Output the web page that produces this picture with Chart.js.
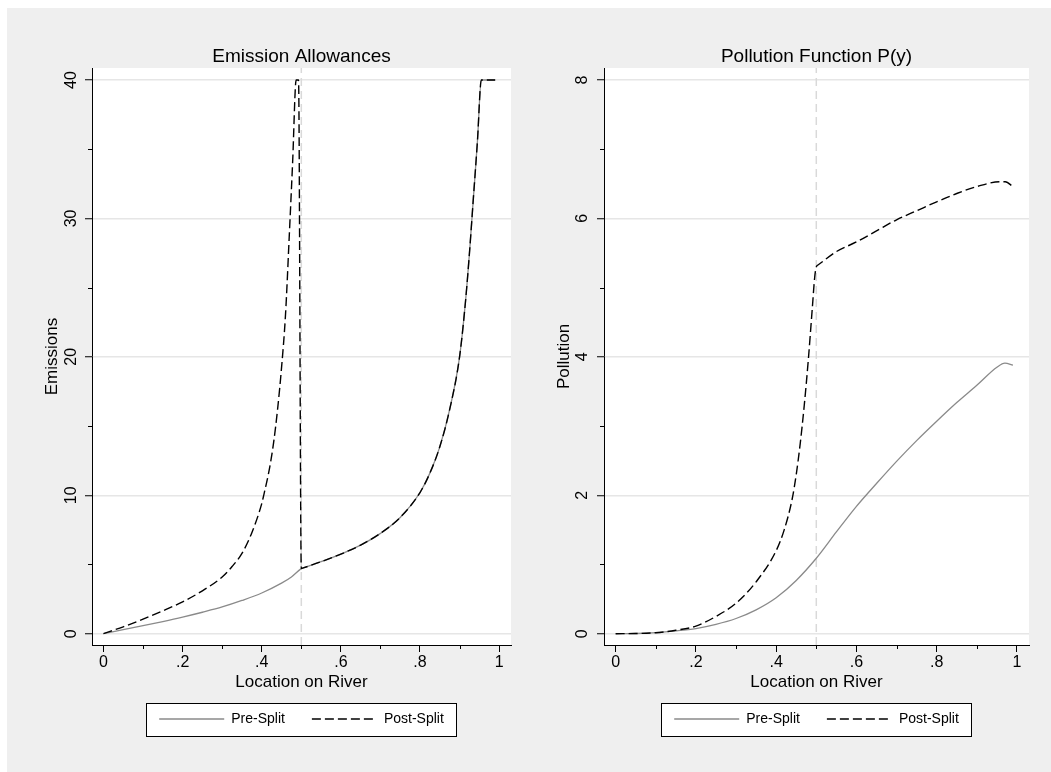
<!DOCTYPE html>
<html>
<head>
<meta charset="utf-8">
<script src="https://cdn.jsdelivr.net/npm/chart.js@4/dist/chart.umd.min.js"></script>
<style>
  html, body { margin: 0; padding: 0; background: #ffffff; }
  #frame { position: absolute; left: 7px; top: 8px; width: 1044px; height: 764px; background: #efefef; }
  canvas { position: absolute; top: 0; }
  #emisChart { left: 0; }
  #pollChart { left: 512px; }
</style>
</head>
<body>
<div id="frame">
  <canvas id="emisChart" width="512" height="764"></canvas>
  <canvas id="pollChart" width="532" height="764"></canvas>
</div>
<script>
// ---- Emission allowances by location on the river ----
const emisPreX  = [0, 0.05, 0.1, 0.15, 0.2, 0.25, 0.3, 0.35, 0.4, 0.45, 0.475, 0.5, 0.505,
                   0.55, 0.6, 0.65, 0.7, 0.75, 0.8, 0.825, 0.85, 0.875, 0.9,
                   0.915, 0.925, 0.935, 0.945, 0.955, 0.99];
const emisPreY  = [0, 0.3, 0.58, 0.88, 1.2, 1.55, 1.93, 2.4, 2.94, 3.65, 4.1, 4.7, 4.75,
                   5.2, 5.75, 6.4, 7.25, 8.4, 10.2, 11.6, 13.5, 16.2, 20.0,
                   24.0, 27.5, 31.5, 35.5, 40, 40];
const emisPostX = [0, 0.05, 0.1, 0.15, 0.2, 0.25, 0.3, 0.325, 0.35, 0.375, 0.4, 0.405,
                   0.42, 0.43, 0.44, 0.45, 0.46, 0.47, 0.478, 0.487, 0.493, 0.5, 0.505,
                   0.55, 0.6, 0.65, 0.7, 0.75, 0.8, 0.825, 0.85, 0.875, 0.9,
                   0.915, 0.925, 0.935, 0.945, 0.955, 0.99];
const emisPostY = [0, 0.5, 1.05, 1.65, 2.3, 3.1, 4.1, 4.85, 5.8, 7.3, 9.4, 10.0,
                   12.0, 13.8, 16.2, 19.2, 23.0, 29.0, 34.0, 40, 40, 4.7, 4.75,
                   5.2, 5.75, 6.4, 7.25, 8.4, 10.2, 11.6, 13.5, 16.2, 20.0,
                   24.0, 27.5, 31.5, 35.5, 40, 40];

// ---- Pollution function P(y) ----
const pollPreX  = [0, 0.05, 0.1, 0.15, 0.2, 0.25, 0.3, 0.35, 0.4, 0.45, 0.5,
                   0.55, 0.6, 0.65, 0.7, 0.75, 0.8, 0.85, 0.9, 0.95, 0.97, 0.99];
const pollPreY  = [0, 0.003, 0.015, 0.04, 0.075, 0.135, 0.22, 0.345, 0.52, 0.77, 1.09,
                   1.47, 1.84, 2.17, 2.49, 2.79, 3.07, 3.34, 3.59, 3.85, 3.91, 3.88];
const pollPostX = [0, 0.05, 0.1, 0.15, 0.2, 0.25, 0.3, 0.35, 0.4, 0.42, 0.44,
                   0.45, 0.46, 0.47, 0.48, 0.49, 0.496, 0.5, 0.505, 0.55, 0.6, 0.65,
                   0.7, 0.75, 0.8, 0.85, 0.9, 0.958, 0.971, 0.99];
const pollPostY = [0, 0.003, 0.015, 0.05, 0.11, 0.25, 0.44, 0.75, 1.2, 1.5, 1.95,
                   2.3, 2.75, 3.3, 3.95, 4.7, 5.15, 5.3, 5.33, 5.52, 5.66, 5.82,
                   5.98, 6.11, 6.24, 6.36, 6.46, 6.53, 6.53, 6.46];

// ---- Axis ticks ----
const xTickValues  = [0, 0.2, 0.4, 0.6, 0.8, 1];
const xTickLabels  = ['0', '.2', '.4', '.6', '.8', '1'];
const xMinorTicks  = [0.1, 0.3, 0.5, 0.7, 0.9];
const emisTickValues = [0, 10, 20, 30, 40];
const emisTickLabels = ['0', '10', '20', '30', '40'];
const emisMinorTicks = [5, 15, 25, 35];
const pollTickValues = [0, 2, 4, 6, 8];
const pollTickLabels = ['0', '2', '4', '6', '8'];
const pollMinorTicks = [1, 3, 5, 7];

const splitLocation = 0.5;
const seriesNames = ['Pre-Split', 'Post-Split'];

const FONT = "'Liberation Sans', Arial, Helvetica, sans-serif";
Chart.defaults.font.family = FONT;
Chart.defaults.color = '#000';

const toPoints = (xs, ys) => xs.map((x, i) => ({ x: x, y: ys[i] }));

// Legend samples take their stroke and dash pattern from the dataset line
const lineLegendLabels = chart =>
  Chart.defaults.plugins.legend.labels.generateLabels(chart).map(item => {
    const ds = chart.data.datasets[item.datasetIndex];
    item.strokeStyle = ds.borderColor;
    item.lineWidth = ds.borderWidth;
    item.lineDash = ds.borderDash || [];
    return item;
  });

// White plot region, framed legend and short minor ticks
const panelDecor = {
  id: 'panelDecor',
  beforeDraw(chart) {
    const { ctx, chartArea: a } = chart;
    ctx.save();
    ctx.fillStyle = '#ffffff';
    ctx.fillRect(a.left, a.top, a.right - a.left, a.bottom - a.top);
    const lg = chart.legend;
    if (lg && lg.legendHitBoxes && lg.legendHitBoxes.length) {
      const hb = lg.legendHitBoxes;
      const last = hb[hb.length - 1];
      const x0 = Math.round(hb[0].left - 13);
      const x1 = Math.round(last.left + last.width + 12);
      const cy = hb[0].top + hb[0].height / 2;
      const y0 = Math.round(cy - 16.5);
      ctx.fillStyle = '#ffffff';
      ctx.fillRect(x0, y0, x1 - x0, 33);
      ctx.strokeStyle = '#000';
      ctx.lineWidth = 1;
      ctx.strokeRect(x0 + 0.5, y0 + 0.5, x1 - x0, 33);
    }
    ctx.restore();
  },
  afterDraw(chart, args, opts) {
    const { ctx, chartArea: a } = chart;
    const xs = chart.scales.x, ys = chart.scales.y;
    ctx.save();
    ctx.strokeStyle = '#000';
    ctx.lineWidth = 1;
    ctx.beginPath();
    (opts.xMinor || []).forEach(v => {
      const px = Math.round(xs.getPixelForValue(v)) + 0.5;
      ctx.moveTo(px, a.bottom);
      ctx.lineTo(px, a.bottom + 4);
    });
    (opts.yMinor || []).forEach(v => {
      const py = Math.round(ys.getPixelForValue(v)) + 0.5;
      ctx.moveTo(a.left, py);
      ctx.lineTo(a.left - 4, py);
    });
    ctx.stroke();
    ctx.restore();
  }
};

function buildPanel(canvasId, p) {
  return new Chart(document.getElementById(canvasId), {
    type: 'line',
    data: {
      datasets: [
        { label: seriesNames[0], data: toPoints(p.preX, p.preY),
          borderColor: '#8a8a8a', backgroundColor: '#8a8a8a', borderWidth: 1.3,
          cubicInterpolationMode: 'monotone', order: 2 },
        { label: seriesNames[1], data: toPoints(p.postX, p.postY),
          borderColor: '#000000', backgroundColor: '#000000', borderWidth: 1.4,
          borderDash: [9, 4], cubicInterpolationMode: 'monotone', order: 1 },
        { label: 'split', data: [{ x: splitLocation, y: p.yMin }, { x: splitLocation, y: p.yMax }],
          borderColor: '#d9d9d9', borderWidth: 1.5, borderDash: [8, 5], order: 3 }
      ]
    },
    options: {
      responsive: false,
      animation: false,
      devicePixelRatio: 1,
      elements: { point: { radius: 0 }, line: { fill: false } },
      layout: { padding: { left: 30, right: p.padRight, top: 0, bottom: 36 } },
      scales: {
        x: {
          type: 'linear', min: -0.029, max: 1.03,
          afterBuildTicks: s => { s.ticks = xTickValues.map(v => ({ value: v })); },
          afterFit: s => { s.height = 40; },
          ticks: {
            autoSkip: false, minRotation: 0, maxRotation: 0, padding: 1,
            font: { size: 16 }, color: '#000',
            callback: (v, i) => xTickLabels[i]
          },
          grid: { drawOnChartArea: false, drawTicks: true, tickLength: 7, tickColor: '#000', tickWidth: 1 },
          border: { display: true, color: '#000', width: 1 },
          title: { display: true, text: 'Location on River', font: { size: 17 }, color: '#000',
                   padding: { top: 0, bottom: -7.2 } }
        },
        y: {
          type: 'linear', min: p.yMin, max: p.yMax,
          afterBuildTicks: s => { s.ticks = p.yTicks.map(v => ({ value: v })); },
          afterFit: s => { s.width = 55; },
          ticks: {
            autoSkip: false, minRotation: 90, maxRotation: 90, crossAlign: 'center',
            padding: p.yLabelPad, font: { size: 16 }, color: '#000',
            callback: (v, i) => p.yLabels[i]
          },
          grid: { color: '#e6e6e6', lineWidth: 1.5, drawTicks: true, tickLength: 7, tickColor: '#000', tickWidth: 1 },
          border: { display: true, color: '#000', width: 1 },
          title: { display: true, text: p.yTitle, font: { size: 17 }, color: '#000',
                   padding: { top: 4.8, bottom: 0 } }
        }
      },
      plugins: {
        title: { display: true, text: p.title, fullSize: false, color: '#000',
                 font: { size: 19, weight: 'normal' }, padding: { top: 37.6, bottom: -0.4 } },
        legend: {
          display: true, position: 'bottom', fullSize: false,
          labels: {
            usePointStyle: true, pointStyle: 'line', pointStyleWidth: 65, boxHeight: 14,
            padding: 27, color: '#000', font: { size: 14 },
            generateLabels: lineLegendLabels,
            filter: item => item.datasetIndex !== 2,
            sort: (a, b) => a.datasetIndex - b.datasetIndex
          }
        },
        tooltip: { enabled: false },
        panelDecor: { xMinor: xMinorTicks, yMinor: p.yMinor }
      }
    },
    plugins: [panelDecor]
  });
}

buildPanel('emisChart', {
  title: 'Emission Allowances', yTitle: 'Emissions',
  preX: emisPreX, preY: emisPreY, postX: emisPostX, postY: emisPostY,
  yMin: -0.816, yMax: 40.867,
  yTicks: emisTickValues, yLabels: emisTickLabels, yMinor: emisMinorTicks,
  yLabelPad: 5, padRight: 8
});

buildPanel('pollChart', {
  title: 'Pollution Function P(y)', yTitle: 'Pollution',
  preX: pollPreX, preY: pollPreY, postX: pollPostX, postY: pollPostY,
  yMin: -0.163, yMax: 8.173,
  yTicks: pollTickValues, yLabels: pollTickLabels, yMinor: pollMinorTicks,
  yLabelPad: 10, padRight: 22
});
</script>
</body>
</html>
